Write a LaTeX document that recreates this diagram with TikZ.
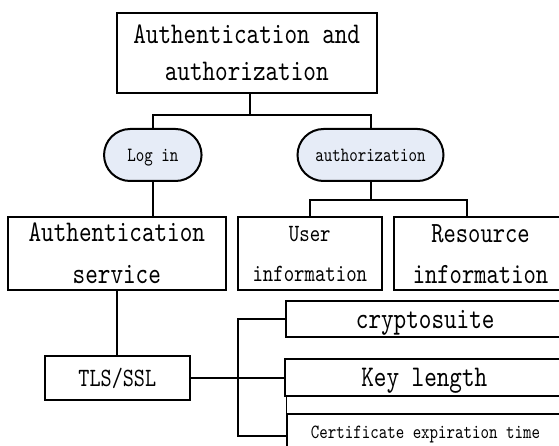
\documentclass[tikz,border=0pt]{standalone}
\usepackage{fontspec}
\setmainfont{lmmono10-regular.otf}[FakeStretch=0.8]
\usetikzlibrary{shapes.misc}
\definecolor{pillblue}{RGB}{230,236,247}

\begin{document}
\begin{tikzpicture}[x=1pt,y=-1pt,
		box/.style={draw=black, line width=2pt, inner sep=0pt, align=center},
		pill/.style={box, rounded rectangle, fill=pillblue, text depth=0pt},
		oneline/.style={text depth=0pt},
		conn/.style={line width=2pt},
		bigtext/.style={font=\fontsize{30}{36.7}\selectfont},
		smalltext/.style={font=\fontsize{20.2}{23}\selectfont}]
		\useasboundingbox (0,0) rectangle (559,446);
		\clip (0,0) rectangle (559,446);
		% top level
		\node[box, bigtext, minimum width=260pt, minimum height=80.6pt](auth) at (246.7,53){Authentication and\\authorization};
		\node[pill, smalltext, minimum width=97.5pt, minimum height=52pt](login) at (152.8,155){Log in};
		\node[pill, smalltext, minimum width=146pt, minimum height=52pt](authz) at (370.5,155){authorization};
		% second level
		\node[box, font=\fontsize{30}{42}\selectfont, minimum width=218pt, minimum height=73.5pt](authsvc) at (116.8,253.7){Authentication\\service};
		\node[box, font=\fontsize{24.8}{40}\selectfont, minimum width=144.5pt, minimum height=73.5pt](userinfo) at (309.8,253.7){User\\information};
		\node[box, font=\fontsize{29.3}{41}\selectfont, minimum width=173pt, minimum height=73.5pt](resinfo) at (480.5,253.7){Resource\\information};
		% TLS branch
		\node[box, oneline, font=\fontsize{26.4}{30}\selectfont, minimum width=145.4pt, minimum height=44pt](tls) at (117.3,377.5){TLS/SSL};
		\node[box, oneline, bigtext, minimum width=277.7pt, minimum height=36.3pt](crypto) at (425.2,319.2){cryptosuite};
		\node[draw=black, line width=1pt, minimum width=278pt, minimum height=18pt, inner sep=0pt](gap) at (425.2,404.5){};
		\node[box, oneline, bigtext, minimum width=279.5pt, minimum height=36.2pt](keylen) at (424.3,377.4){Key length};
		\node[box, oneline, smalltext, minimum width=277pt, minimum height=36pt](cert) at (425.5,432){Certificate expiration time};
		% connectors
		\coordinate (authbar) at (249.6,115);
		\coordinate (authzbar) at (370.5,200);
		\coordinate (brbot) at (237.8,436);
		\draw[conn] (auth.south -| authbar) -- (authbar);
		\draw[conn] (login.north) |- (authbar) -| (authz.north);
		\draw[conn] (login.south) -- (login.south |- authsvc.north);
		\draw[conn] (authz.south) -- (authzbar);
		\draw[conn] (userinfo.north) |- (authzbar) -| ([xshift=-13.5pt]resinfo.north);
		\draw[conn] (authsvc.south) -- (authsvc.south |- tls.north);
		\draw[conn] (tls.east) -- (tls.east -| keylen.west);
		\draw[conn] (crypto.west) -| (brbot) -- (brbot -| cert.west);
	\end{tikzpicture}
\end{document}
